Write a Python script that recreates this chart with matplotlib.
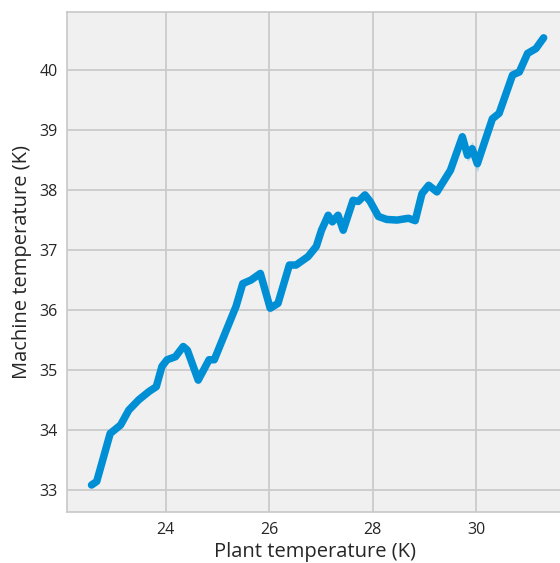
import matplotlib.pyplot as plt
import numpy as np

# plant vs machine temperature
plant_temp = [22.57, 22.67, 22.93, 23.13, 23.29, 23.48, 23.68, 23.82, 23.93, 24.03,
              24.19, 24.34, 24.42, 24.63, 24.84, 24.94, 25.36, 25.49, 25.65, 25.83,
              26.02, 26.17, 26.39, 26.52, 26.75, 26.91, 27.01, 27.14, 27.22, 27.33,
              27.43, 27.62, 27.72, 27.85, 27.95, 28.11, 28.27, 28.47, 28.69, 28.82,
              28.95, 29.08, 29.24, 29.50, 29.73, 29.83, 29.92, 30.02, 30.31, 30.44,
              30.70, 30.83, 30.99, 31.15, 31.30]
machine_temp = [33.08, 33.14, 33.94, 34.08, 34.33, 34.50, 34.64, 34.72, 35.06, 35.17,
                35.22, 35.39, 35.33, 34.83, 35.17, 35.17, 36.06, 36.44, 36.50, 36.61,
                36.03, 36.11, 36.75, 36.75, 36.89, 37.06, 37.33, 37.58, 37.47, 37.58,
                37.33, 37.83, 37.81, 37.92, 37.81, 37.56, 37.51, 37.50, 37.53, 37.49,
                37.94, 38.08, 37.97, 38.33, 38.89, 38.58, 38.69, 38.44, 39.19, 39.28,
                39.92, 39.97, 40.28, 40.36, 40.54]
ci_half = [0.02, 0.02, 0.03, 0.03, 0.03, 0.03, 0.03, 0.03, 0.03, 0.03,
           0.03, 0.03, 0.04, 0.07, 0.04, 0.04, 0.04, 0.05, 0.04, 0.04,
           0.07, 0.05, 0.06, 0.05, 0.04, 0.04, 0.05, 0.06, 0.05, 0.06,
           0.07, 0.05, 0.05, 0.05, 0.04, 0.04, 0.04, 0.04, 0.05, 0.05,
           0.05, 0.05, 0.05, 0.06, 0.09, 0.10, 0.12, 0.14, 0.05, 0.05,
           0.04, 0.04, 0.04, 0.04, 0.03]

x = np.array(plant_temp)
y = np.array(machine_temp)
ci = np.array(ci_half)

plt.rcParams['font.family'] = ['Open Sans', 'DejaVu Sans']

fig = plt.figure(figsize=(5.6, 5.63), dpi=100)
ax = fig.add_axes([0.12, 0.0906, 0.885, 0.888])
ax.set_facecolor('#f0f0f0')

ax.fill_between(x, y - ci, y + ci, color='#008fd5', alpha=0.25, linewidth=0)
ax.plot(x, y, color='#008fd5', linewidth=5.4, solid_joinstyle='round',
        solid_capstyle='round')

ax.set_xlim(22.10, 31.67)
ax.set_ylim(32.63, 40.97)
ax.set_xticks([24, 26, 28, 30])
ax.set_yticks([33, 34, 35, 36, 37, 38, 39, 40])
ax.grid(True, color='#cbcbcb', linewidth=1.3)
ax.set_axisbelow(True)
ax.tick_params(length=0, labelsize=11.5, colors='#262626', pad=7)

for side in ['left', 'bottom', 'top']:
    ax.spines[side].set_color('#c8c8c8')
    ax.spines[side].set_linewidth(1.2)
ax.spines['right'].set_visible(False)

ax.set_xlabel('Plant temperature (K)', fontsize=14.5, color='#262626', labelpad=3)
ax.set_ylabel('Machine temperature (K)', fontsize=14.5, color='#262626', labelpad=5)

plt.savefig('out.png', dpi=100, facecolor='white')
